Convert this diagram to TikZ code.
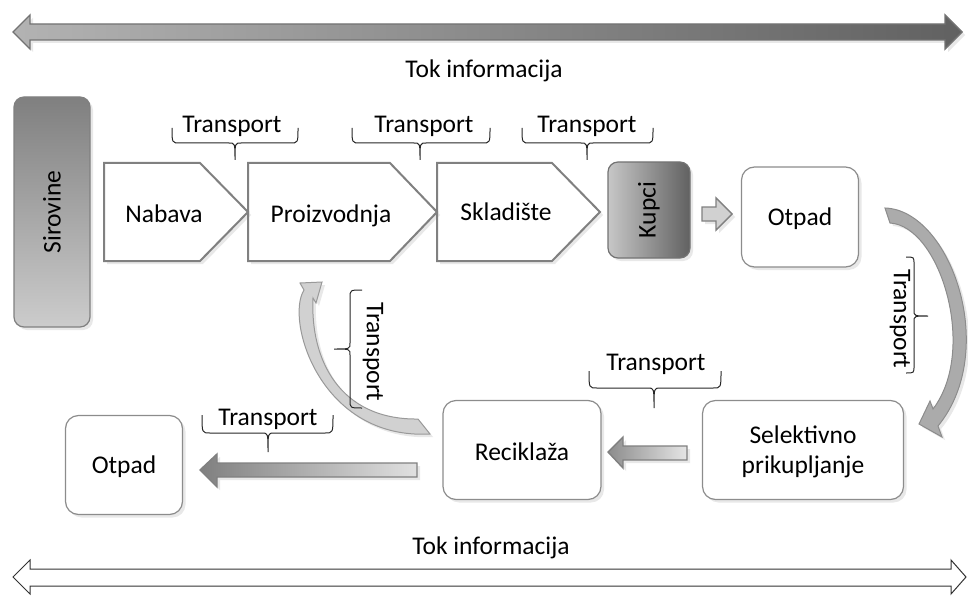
\documentclass[tikz,border=0pt]{standalone}
\usepackage{fontspec}
\setmainfont{Carlito}
\usetikzlibrary{shadows}
\begin{document}
\begin{tikzpicture}[x=1pt, y=-1pt, font=\fontsize{25.5}{30}\selectfont,
  sh/.style={drop shadow={opacity=0.18, shadow xshift=3pt, shadow yshift=-3pt}},
  roundbox/.style={draw=black!45, line width=1.2pt, fill=white, rounded corners=13pt, inner sep=2pt, sh},
  penta/.style={draw=black!50, line width=2pt, fill=white, line join=miter, sh},
  brc/.style={draw=black!85, line width=1pt},
  bararrow/.style={draw=black!50, line width=1.4pt, sh}]
\useasboundingbox (0,0) rectangle (968,596);
% information flow
\draw[bararrow, draw=black!55, left color=black!30, right color=black!62] (13,32) -- (30,15) -- (30,24) -- (945,24) -- (945,15) -- (962,32) -- (945,49) -- (945,40) -- (30,40) -- (30,49) -- cycle;
\node[anchor=base] (info1) at (484,78) {Tok informacija};
\node[anchor=base] (info2) at (491,554) {Tok informacija};
\draw[draw=black!80, fill=white, line width=1pt] (13,577) -- (30,560) -- (30,569) -- (951,569) -- (951,560) -- (966,577) -- (951,594) -- (951,586) -- (30,586) -- (30,594) -- cycle;
% supply chain
\node[rotate=90, minimum width=230, minimum height=76, rounded corners=10pt, draw=black!50, line width=1.2pt, top color=black!50, bottom color=black!20, sh] (sirovine) at (52,212) {Sirovine};
\draw[penta] (437,163) -- (552,163) -- (600,212) -- (552,261) -- (437,261) -- cycle;
\draw[penta] (248,163) -- (390,163) -- (437,212) -- (390,261) -- (248,261) -- cycle;
\draw[penta] (104,163) -- (200,163) -- (248,212) -- (200,261) -- (104,261) -- cycle;
\node[anchor=base] (nabava) at (164,222) {Nabava};
\node[anchor=base] (proizvodnja) at (331,222) {Proizvodnja};
\node[anchor=base] (skladiste) at (506,220) {Skladište};
\node[rotate=90, minimum width=96, minimum height=82, rounded corners=10pt, draw=black!55, line width=1.2pt, left color=black!22, right color=black!62, sh] (kupci) at (649,210) {Kupci};
\node[roundbox, minimum width=117, minimum height=100] (otpadA) at (800,217) {};
\node[anchor=base] (otpadAtxt) at (otpadA.center |- 0,225) {Otpad};
\draw[bararrow, fill=black!18] (702,207) -- (716,207) -- (716,198) -- (732,214) -- (716,230) -- (716,221) -- (702,221) -- cycle;
% transport braces, top
\draw[brc] (172,128) .. controls (172,143) .. (180,143) -- (229,143) .. controls (235,143) .. (235,160) .. controls (235,143) .. (241,143) -- (290,143) .. controls (298,143) .. (298,128);
\draw[brc] (352,128) .. controls (352,143) .. (360,143) -- (414,143) .. controls (420,143) .. (420,160) .. controls (420,143) .. (426,143) -- (482,143) .. controls (490,143) .. (490,128);
\draw[brc] (522,128) .. controls (522,143) .. (530,143) -- (581,143) .. controls (587,143) .. (587,160) .. controls (587,143) .. (593,143) -- (645,143) .. controls (653,143) .. (653,128);
\node[anchor=base] (tr1) at (232,133) {Transport};
\node[anchor=base] (tr2) at (424,133) {Transport};
\node[anchor=base] (tr3) at (587,133) {Transport};
% return loop
\draw[draw=black!45, line width=1pt, fill=black!33, sh] (885,208) .. controls (950,210) and (1000,350) .. (938,426) -- (942,437) -- (919,424) -- (930,401) -- (933,409) .. controls (978,350) and (940,226) .. (890,223) -- cycle;
\draw[brc] (906,257) .. controls (914,257) .. (914,264) -- (914,310) .. controls (914,316) .. (928,316) .. controls (914,316) .. (914,322) -- (914,366) .. controls (914,373) .. (906,373);
\node[rotate=-90] (tr7) at (900,319) {Transport};
\node[roundbox, minimum width=201, minimum height=99] (selektivno) at (803,450) {};
\node[anchor=base] (selektivno1) at (selektivno.center |- 0,443) {Selektivno};
\node[anchor=base] (selektivno2) at (selektivno.center |- 0,473) {prikupljanje};
\node[roundbox, minimum width=158, minimum height=99] (reciklaza) at (522,450) {};
\node[anchor=base] (reciklazatxt) at (reciklaza.center |- 0,460) {Reciklaža};
\node[roundbox, minimum width=117, minimum height=99] (otpadB) at (124,465) {};
\node[anchor=base] (otpadBtxt) at (otpadB.center |- 0,473) {Otpad};
\draw[bararrow, left color=black!45, right color=black!10] (608,452) -- (623,437) -- (623,446) -- (687,446) -- (687,460) -- (623,460) -- (623,468) -- cycle;
\draw[bararrow, left color=black!50, right color=black!12] (200,470) -- (217,454) -- (217,463) -- (417,463) -- (417,477) -- (217,477) -- (217,487) -- cycle;
\draw[brc] (589,371) .. controls (589,388) .. (597,388) -- (648,388) .. controls (654,388) .. (654,408) .. controls (654,388) .. (660,388) -- (713,388) .. controls (721,388) .. (721,371);
\draw[brc] (202,415) .. controls (202,433) .. (210,433) -- (262,433) .. controls (268,433) .. (268,452) .. controls (268,433) .. (274,433) -- (325,433) .. controls (333,433) .. (333,415);
\node[anchor=base] (tr5) at (656,370) {Transport};
\node[anchor=base] (tr4) at (268,425) {Transport};
\draw[draw=black!40, line width=1pt, fill=black!18, sh] (430,434) .. controls (320,440) and (285,320) .. (304,290) -- (300,283) -- (322,282) -- (316,303) -- (313,298) .. controls (310,360) and (340,420) .. (418,419) -- cycle;
\draw[brc] (362,290) .. controls (350,290) .. (350,298) -- (350,343) .. controls (350,349) .. (334,349) .. controls (350,349) .. (350,355) -- (350,400) .. controls (350,408) .. (362,408);
\node[rotate=-90] (tr6) at (373,352) {Transport};
\end{tikzpicture}
\end{document}
